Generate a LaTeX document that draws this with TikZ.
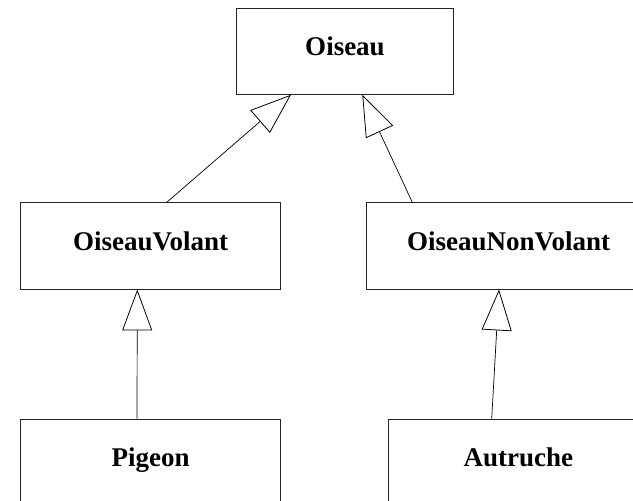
\documentclass[tikz,border=0pt]{standalone}
\usepackage{fontspec}
\setmainfont{Liberation Serif}
\usetikzlibrary{arrows.meta}

\tikzset{
  classe/.style={draw=black!85, line width=0.8pt, minimum height=86.3pt,
    font=\fontsize{27}{32}\selectfont\bfseries, text height=18pt, text depth=8.4pt},
  herite/.style={line width=0.7pt, -{Triangle[open, length=41pt, width=30pt, line width=0.8pt]}}
}

\begin{document}
\begin{tikzpicture}[x=1pt, y=1pt]
  \useasboundingbox (0,0) rectangle (633,501);
  \node[classe, minimum width=216.6pt] (oiseau) at (345,449.8) {Oiseau};
  \node[classe, minimum width=260pt] (volant) at (150.7,255.1) {OiseauVolant};
  \node[classe, minimum width=284pt] (nonvolant) at (508.7,255.1) {OiseauNonVolant};
  \node[classe, minimum width=260pt] (pigeon) at (150.7,38.8) {Pigeon};
  \node[classe, minimum width=259pt] (autruche) at (518.3,38.8) {Autruche};
  \draw[herite] ([xshift=16pt]volant.north) -- ([xshift=-54pt]oiseau.south);
  \draw[herite] ([xshift=-96.4pt]nonvolant.north) -- ([xshift=17.3pt]oiseau.south);
  \draw[herite] ([xshift=-13.7pt]pigeon.north) -- ([xshift=-13.4pt]volant.south);
  \draw[herite] ([xshift=-26.6pt]autruche.north) -- ([xshift=-9.7pt]nonvolant.south);
\end{tikzpicture}
\end{document}
